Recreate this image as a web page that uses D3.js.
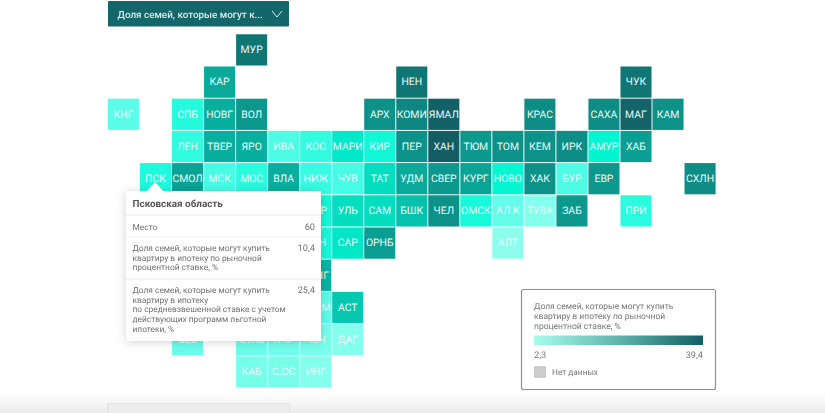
<!DOCTYPE html>
<html><head><meta charset="utf-8">
<script src="https://cdn.jsdelivr.net/npm/d3@7"></script>
<style>
html,body{margin:0;padding:0;background:#fff;overflow:hidden}
svg{display:block;filter:blur(0.55px)}
text{font-family:Roboto,sans-serif;text-rendering:geometricPrecision}
</style></head><body>
<svg id="c" width="825" height="413"></svg>
<script>
// Tile rows: "." marks an empty tile (tiles wholly behind the tooltip cannot be read and are left out)
const tileRows = [
  ". . . . МУР",
  ". . . КАР . . . . . НЕН . . . . . . ЧУК",
  "КНГ . СПБ НОВГ ВОЛ . . . АРХ КОМИ ЯМАЛ . . КРАС . САХА МАГ КАМ",
  ". . ЛЕН ТВЕР ЯРО ИВА КОС МАРИ КИР ПЕР ХАН ТЮМ ТОМ КЕМ ИРК АМУР ХАБ",
  ". ПСК СМОЛ МСК МОС ВЛА НИЖ ЧУВ ТАТ УДМ СВЕР КУРГ НОВО ХАК БУР ЕВР . . СХЛН",
  ". . . . . . МОР УЛЬ САМ БШК ЧЕЛ ОМСК АЛ.К ТУВА ЗАБ . ПРИ",
  ". . . . . . ПЕН САР ОРНБ . . . АЛТ",
  ". . . . . . ВОЛГ",
  ". . . . . . КАЛМ АСТ",
  ". . СЕВ . СТАВ КЧР ЧЕЧ ДАГ",
  ". . . . КАБ С.ОС ИНГ"
];
const shareValues = [
  [35],
  [26,35,35],
  [6,10,25,29,30,32,38.5,31,31,38,30],
  [9,25,25,7,9,15,11.5,30,39.4,29,30,30,31,13,28],
  [10.4,27,7.5,9.5,25,8.5,7.5,17,26,29,27,12.5,30,7,29,31],
  [11.5,17,17,22,30,11,5.5,3,29,9.5],
  [11,15.5,28,2.3],
  [24],
  [6,21],
  [5,5,4.5,4,3],
  [4,4,3]
];
const colorStops = [2.3,6,10.4,13,39.4];
const colorRange = ["#8dfeee","#5cfde8","#1ffadc","#00f5d0","#135c62"];
const legendLines = ["Доля семей, которые могут купить","квартиру в ипотеку по рыночной","процентной ставке, %"];
const legendTicks = ["2,3","39,4"];
const legendGradient = ["#a6fdec","#5fb5ab","#125e63"];
const tooltipTitle = "Псковская область";
const tooltipRows = [
  {lines:["Место"],value:"60"},
  {lines:["Доля семей, которые могут купить","квартиру в ипотеку по рыночной","процентной ставке, %"],value:"10,4"},
  {lines:["Доля семей, которые могут купить","квартиру в ипотеку","по средневзвешенной ставке с учетом","действующих программ льготной","ипотеки, %"],value:"25,4"}
];
const dropdownLabel = "Доля семей, которые могут к...";

const svg = d3.select("#c");
const defs = svg.append("defs");
const sh = defs.append("filter").attr("id","sh").attr("x","-20%").attr("y","-20%").attr("width","140%").attr("height","140%");
sh.append("feDropShadow").attr("dx",0).attr("dy",1).attr("stdDeviation",5).attr("flood-color","#000").attr("flood-opacity",.18);
const fade = defs.append("linearGradient").attr("id","fade").attr("x1",0).attr("x2",0).attr("y1",0).attr("y2",1);
fade.append("stop").attr("offset",0).attr("stop-color","#fff");
fade.append("stop").attr("offset",1).attr("stop-color","#ebebeb");
const lg = defs.append("linearGradient").attr("id","lg");
legendGradient.forEach((c,i)=>lg.append("stop").attr("offset",i/(legendGradient.length-1)).attr("stop-color",c));

// Bottom fade + next control
svg.append("rect").attr("x",0).attr("y",392).attr("width",825).attr("height",21).attr("fill","url(#fade)");
svg.append("rect").attr("x",107.5).attr("y",403.5).attr("width",182).attr("height",14).attr("fill","#ececec").attr("stroke","#e2e2e2");

// Dropdown
svg.append("rect").attr("x",108).attr("y",1).attr("width",181).attr("height",25.5).attr("rx",1).attr("fill","#13666a");
svg.append("text").attr("x",117.5).attr("y",17.5).attr("font-size",9.9).attr("font-weight",500).attr("fill","#dcebea").text(dropdownLabel);
svg.append("path").attr("d",d3.line()([[272,11],[277,17],[282,11]])).attr("fill","none").attr("stroke","#dcebea").attr("stroke-width",1);

// Tiles
const color = d3.scaleLinear().domain(colorStops).range(colorRange);
const x = d3.scaleBand().domain(d3.range(19)).range([107.5,107.5+19*32.03]).paddingInner(0.03).paddingOuter(0.015);
const y = d3.scaleBand().domain(d3.range(11)).range([33.8,33.8+11*32.2]).paddingInner(0.03).paddingOuter(0.015);
const tiles = [];
tileRows.forEach((row,r)=>{
  let k=0;
  row.split(" ").forEach((lab,c)=>{
    if(lab!=="."){tiles.push({lab,r,c,v:shareValues[r][k++]});}
  });
});
const g = svg.append("g").selectAll("g").data(tiles).join("g")
  .attr("transform",d=>`translate(${x(d.c)},${y(d.r)})`);
g.append("rect").attr("width",x.bandwidth()).attr("height",y.bandwidth()).attr("fill",d=>color(d.v));
g.append("text").attr("x",x.bandwidth()/2).attr("y",y.bandwidth()/2+3.4).attr("text-anchor","middle")
  .attr("font-size",10.4).attr("font-weight",400).attr("fill","#eafbf8").text(d=>d.lab);

// Legend
const lgd = svg.append("g");
lgd.append("rect").attr("x",521.5).attr("y",289.5).attr("width",194).attr("height",100).attr("rx",2).attr("fill","#fff").attr("stroke","#8b90a0").attr("stroke-width",1.2);
lgd.selectAll(".l").data(legendLines).join("text").attr("x",534).attr("y",(d,i)=>309+i*9.8).attr("font-size",8.5).attr("fill","#777").text(d=>d);
const lx = d3.scalePoint().domain(legendTicks).range([534,703]);
lgd.append("rect").attr("x",534).attr("y",335.5).attr("width",169).attr("height",9.5).attr("fill","url(#lg)");
lgd.selectAll(".t").data(legendTicks).join("text").attr("x",d=>lx(d)).attr("y",358).attr("font-size",9.2).attr("fill","#777")
  .attr("text-anchor",(d,i)=>i?"end":"start").text(d=>d);
lgd.append("rect").attr("x",534).attr("y",366).attr("width",12).attr("height",12).attr("fill","#cdcdcd");
lgd.append("text").attr("x",552).attr("y",375).attr("font-size",8.3).attr("fill","#777").text("Нет данных");

// Tooltip
const tp = svg.append("g");
tp.append("rect").attr("x",126).attr("y",191).attr("width",195).attr("height",150).attr("fill","#fff").attr("filter","url(#sh)");
tp.append("path").attr("d",d3.line()([[146,192],[155,182],[164,192]])).attr("fill","#fff");
tp.append("text").attr("x",132.5).attr("y",207).attr("font-size",9.9).attr("font-weight",700).attr("fill","#555").text(tooltipTitle);
let yy = 215;
tooltipRows.forEach(row=>{
  tp.append("line").attr("x1",126).attr("x2",321).attr("y1",yy).attr("y2",yy).attr("stroke","#eee");
  const pad = row.lines.length===1?15:14;
  row.lines.forEach((t,i)=>tp.append("text").attr("x",132.5).attr("y",yy+pad+i*9.7).attr("font-size",8.4).attr("fill","#707070").text(t));
  tp.append("text").attr("x",315).attr("y",yy+pad).attr("text-anchor","end").attr("font-size",9.2).attr("fill","#707070").text(row.value);
  yy += row.lines.length===1?22:row.lines.length===3?42:0;
});
</script></body></html>
